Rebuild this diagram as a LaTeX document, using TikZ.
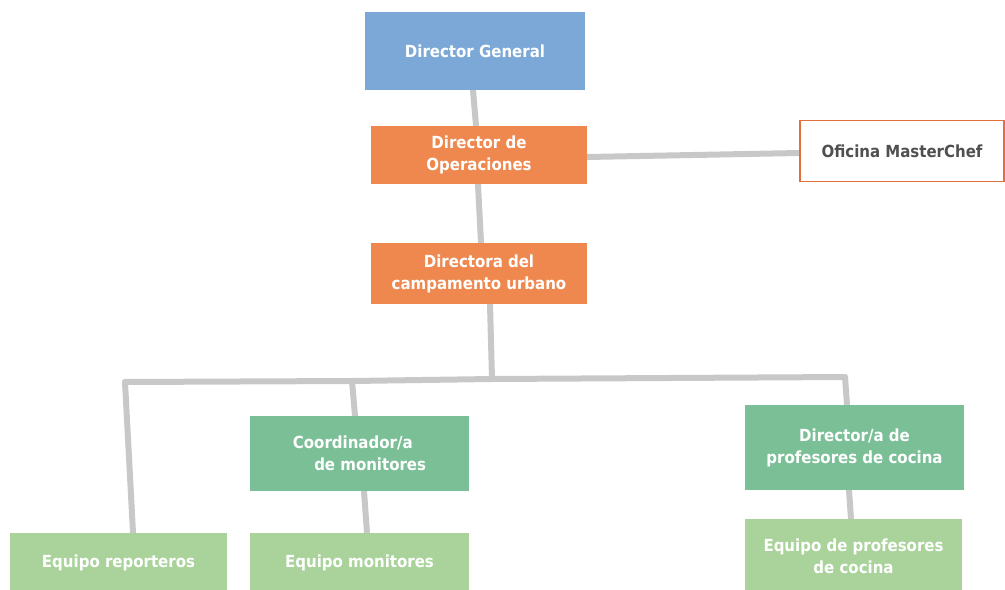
\documentclass[tikz,border=0pt]{standalone}
\usepackage{fontspec}
\setmainfont{DejaVu Sans Condensed}
\usetikzlibrary{backgrounds}
\definecolor{cblue}{HTML}{7BA8D6}
\definecolor{corange}{HTML}{EE884F}
\definecolor{cgreen}{HTML}{7BBF97}
\definecolor{clgreen}{HTML}{A9D39B}
\definecolor{cline}{HTML}{C8C8C8}
\definecolor{cborder}{HTML}{E2703C}
\definecolor{cdark}{HTML}{505050}
\begin{document}
\begin{tikzpicture}[x=0.75pt,y=-0.75pt,
  box/.style={inner sep=0pt, align=center, text=white,
    font=\bfseries\fontsize{12.5}{16.5}\selectfont},
  wide/.style={minimum width=#1*0.75pt},
  tall/.style={minimum height=#1*0.75pt},
  conn/.style={draw=cline, line width=4.5pt, line cap=round, line join=round}]
\useasboundingbox (0,0) rectangle (1005,589);
\node[box, fill=cblue, wide=220, tall=78] (dg) at (475,51) {Director General};
\node[box, fill=corange, wide=216, tall=58] (do) at (479,155) {Director de\\Operaciones};
\node[box, fill=white, draw=cborder, line width=1.3pt, text=cdark, wide=204, tall=61] (om) at (902,151) {Oficina MasterChef};
\node[box, fill=corange, wide=216, tall=61] (dc) at (479,273.5) {Directora del\\campamento urbano};
\node[box, fill=cgreen, wide=219, tall=75, align=left] (cm) at (359.5,453.5) {Coordinador/a\\\hspace{16pt}de monitores};
\node[box, fill=cgreen, wide=219, tall=85] (dp) at (854.5,447.5) {Director/a de\\profesores de cocina};
\node[box, fill=clgreen, wide=217, tall=60] (er) at (118.5,563) {Equipo reporteros};
\node[box, fill=clgreen, wide=219, tall=60] (em) at (359.5,563) {Equipo monitores};
\node[box, fill=clgreen, wide=217, tall=74] (ep) at (853.5,556) {Equipo de profesores\\de cocina};
\coordinate (bc) at (492,379);
\coordinate (bl) at (125,382);
\coordinate (bm) at (352,381);
\coordinate (br) at (845,377);
\begin{scope}[on background layer]
\draw[conn] (dg.south -| 473,0) -- (do.north -| 476,0);
\draw[conn] (do.south -| 478,0) -- (dc.north -| 481,0);
\draw[conn] (do.east |- 0,157) -- (om.west |- 0,153);
\draw[conn] (dc.south -| 490,0) -- (bc);
\draw[conn] (bl) -- (bm) -- (bc) -- (br);
\draw[conn] (bl) -- (er.north -| 133,0);
\draw[conn] (bm) -- (cm.north -| 355,0);
\draw[conn] (br) -- (dp.north -| 847,0);
\draw[conn] (cm.south -| 364,0) -- (em.north -| 367,0);
\draw[conn] (dp.south -| 849,0) -- (ep.north -| 851,0);
\end{scope}
\end{tikzpicture}
\end{document}
